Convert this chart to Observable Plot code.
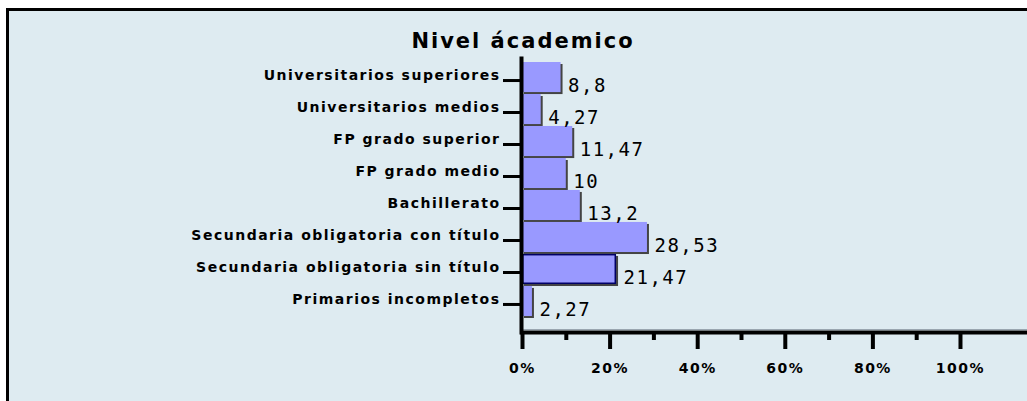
<!DOCTYPE html>
<html><head><meta charset="utf-8">
<script src="https://cdn.jsdelivr.net/npm/d3@7"></script>
<script src="https://cdn.jsdelivr.net/npm/@observablehq/plot@0.6"></script>
<style>
html,body{margin:0;padding:0;background:#fff;width:1027px;height:401px;overflow:hidden;}
#panel{position:absolute;left:6px;top:8px;width:1040px;height:420px;background:#deebf1;border-left:3px solid #000;border-top:3px solid #000;}
#title{position:absolute;left:0;top:20px;width:1028px;text-align:center;font:bold 21px "DejaVu Sans";letter-spacing:2px;line-height:21px;color:#000;}
#chart{position:absolute;left:0;top:40px;line-height:0;}
#chart svg{display:block;}
#chart g[aria-label="text"] text{letter-spacing:1.5px;}
#chart g[aria-label="y-axis tick label"] text{letter-spacing:1.5px;}
#chart g[aria-label="x-axis tick label"] text{letter-spacing:1.5px;}
</style></head>
<body>
<div id="panel"><div id="title">Nivel ácademico</div><div id="chart"></div></div>
<script>
const categories = [
  "Universitarios superiores",
  "Universitarios medios",
  "FP grado superior",
  "FP grado medio",
  "Bachillerato",
  "Secundaria obligatoria con título",
  "Secundaria obligatoria sin título",
  "Primarios incompletos"
];
const values = [8.8, 4.27, 11.47, 10, 13.2, 28.53, 21.47, 2.27];
const majorTicks = [0, 20, 40, 60, 80, 100];
const minorTicks = [10, 30, 50, 70, 90];

const data = categories.map((c, i) => ({cat: c, value: values[i], i}));
const fmt = v => String(v).replace(".", ",");

const chart = Plot.plot({
  width: 1018,
  height: 350,
  marginLeft: 513,
  marginRight: 0,
  marginTop: 7,
  marginBottom: 69,
  style: {background: "transparent", overflow: "visible"},
  x: {domain: [0, 115.3], axis: null},
  y: {domain: categories, range: [11, 265], paddingInner: 0.06, paddingOuter: 0, round: false, axis: null},
  marks: [
    Plot.frame({anchor: "bottom", stroke: "#9aa6b0", strokeWidth: 1, dy: -3}),
    Plot.barX(data, {x: "value", y: "cat", fill: "#444444", dx: 2, dy: 2}),
    Plot.barX(data, {x: "value", y: "cat", fill: "#9999ff"}),
    Plot.barX(data.filter(d => d.i === 6), {x: "value", y: "cat", fill: "none", stroke: "#000066", strokeWidth: 1.5, inset: 0.75}),
    Plot.text(data, {x: "value", y: "cat", text: d => fmt(d.value), textAnchor: "start", dx: 7, dy: 8,
      fontSize: 19, fontFamily: "DejaVu Sans Mono", fill: "#000"}),
    Plot.axisY({tickSize: 19, strokeWidth: 3, dy: 3, tickFormat: () => "", label: null}),
    Plot.axisY({tickSize: 0, tickPadding: 22, dy: -2, label: null,
      fontSize: 14, fontWeight: "bold", fontFamily: "DejaVu Sans"}),
    Plot.axisX({ticks: majorTicks, tickSize: 17, strokeWidth: 4, tickFormat: () => "", label: null}),
    Plot.axisX({ticks: minorTicks, tickSize: 8, strokeWidth: 4, tickFormat: () => "", label: null}),
    Plot.axisX({ticks: majorTicks, tickSize: 0, tickPadding: 31, tickFormat: d => d + "%", label: null,
      fontSize: 14, fontWeight: "bold", fontFamily: "DejaVu Sans"}),
    Plot.frame({anchor: "left", strokeWidth: 4, dx: -1}),
    Plot.frame({anchor: "bottom", strokeWidth: 4})
  ]
});
document.getElementById("chart").appendChild(chart);
</script>
</body></html>
